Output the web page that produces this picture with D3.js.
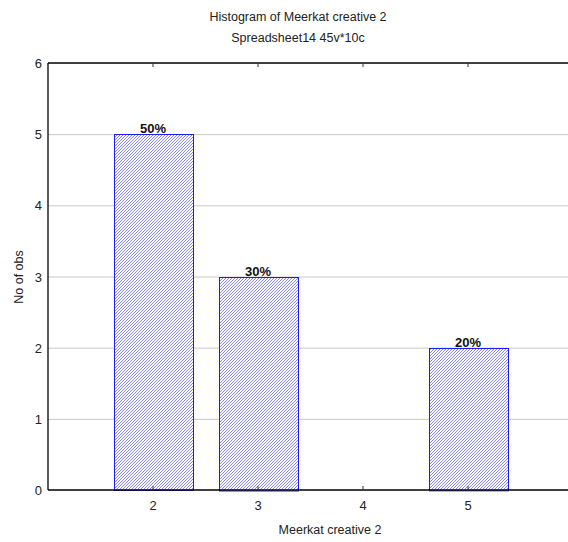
<!DOCTYPE html>
<html><head><meta charset="utf-8">
<script src="https://cdn.jsdelivr.net/npm/d3@7"></script>
<style>body{margin:0;background:#fff}svg{display:block;font-family:"Liberation Sans",Arial,sans-serif}</style>
</head><body>
<script>
const categories = [2, 3, 4, 5];
const counts = [5, 3, 0, 2];
const percentLabels = ["50%", "30%", "", "20%"];
const yTicks = [0, 1, 2, 3, 4, 5, 6];
const titleLines = ["Histogram of Meerkat creative 2", "Spreadsheet14 45v*10c"];
const xTitle = "Meerkat creative 2";
const yTitle = "No of obs";

const W = 568, H = 542;
const plotLeft = 48, plotTop = 63, plotBottom = 490;
const svg = d3.select("body").append("svg").attr("width", W).attr("height", H);

const x = d3.scaleLinear().domain([1, 6]).range([plotLeft, plotLeft + 5 * 105]);
const y = d3.scaleLinear().domain([0, 6]).range([plotBottom, plotTop]);

const defs = svg.append("defs");
const pat = defs.append("pattern").attr("id", "hatch").attr("patternUnits", "userSpaceOnUse")
  .attr("width", 3).attr("height", 3);
pat.append("rect").attr("width", 3).attr("height", 3).attr("fill", "#ffffff");
pat.append("path").attr("d", "M-1,1 l2,-2 M0,3 l3,-3 M2,4 l2,-2")
  .attr("stroke", "#7878f8").attr("stroke-width", 0.9);

// gridlines
svg.append("g").selectAll("line").data(yTicks.filter(d => d > 0 && d < 6)).join("line")
  .attr("x1", plotLeft).attr("x2", W).attr("y1", d => y(d) + 0.5).attr("y2", d => y(d) + 0.5)
  .attr("stroke", "#c8c8c8");

// bars
const bw = 79;
svg.append("g").selectAll("rect").data(categories).join("rect")
  .attr("x", (d) => Math.round(x(d) - bw / 2) + 0.5)
  .attr("y", (d, i) => Math.round(y(counts[i])) + 0.5)
  .attr("width", bw)
  .attr("height", (d, i) => Math.max(0, y(0) - y(counts[i])))
  .attr("fill", "url(#hatch)")
  .attr("stroke", (d, i) => counts[i] > 0 ? "#1a1aff" : "#a0a0ff")
  .attr("stroke-width", 1);

// percent labels
svg.append("g").selectAll("text").data(categories).join("text")
  .attr("x", d => x(d)).attr("y", (d, i) => y(counts[i]) - 1)
  .attr("text-anchor", "middle").attr("font-size", 13).attr("font-weight", "bold")
  .attr("fill", "#111").text((d, i) => percentLabels[i]);

// axes frame
const g = svg.append("g").attr("stroke", "#000").attr("stroke-width", 1.3);
g.append("line").attr("x1", plotLeft).attr("x2", plotLeft).attr("y1", plotTop).attr("y2", plotBottom);
g.append("line").attr("x1", plotLeft).attr("x2", W).attr("y1", plotBottom).attr("y2", plotBottom);
g.append("line").attr("x1", plotLeft).attr("x2", W).attr("y1", plotTop).attr("y2", plotTop);

// x ticks (inward, top and bottom)
svg.append("g").selectAll("line").data(categories).join("line")
  .attr("x1", d => x(d)).attr("x2", d => x(d)).attr("y1", plotBottom).attr("y2", plotBottom - 4)
  .attr("stroke", "#333");
svg.append("g").selectAll("line").data(categories).join("line")
  .attr("x1", d => x(d)).attr("x2", d => x(d)).attr("y1", plotTop).attr("y2", plotTop + 4)
  .attr("stroke", "#333");

// tick labels
svg.append("g").selectAll("text").data(categories).join("text")
  .attr("x", d => x(d)).attr("y", 510).attr("text-anchor", "middle")
  .attr("font-size", 13).attr("fill", "#222").text(d => d);
svg.append("g").selectAll("text").data(yTicks).join("text")
  .attr("x", 42).attr("y", d => y(d) + 5).attr("text-anchor", "end")
  .attr("font-size", 13).attr("fill", "#222").text(d => d);

// titles
svg.append("g").selectAll("text").data(titleLines).join("text")
  .attr("x", 298).attr("y", (d, i) => 21 + i * 21).attr("text-anchor", "middle")
  .attr("font-size", 12.5).attr("fill", "#222").text(d => d);
svg.append("text").attr("x", 330).attr("y", 534).attr("text-anchor", "middle")
  .attr("font-size", 12.5).attr("fill", "#222").text(xTitle);
svg.append("text").attr("transform", "translate(23,277) rotate(-90)").attr("text-anchor", "middle")
  .attr("font-size", 12.5).attr("fill", "#222").text(yTitle);
</script>
</body></html>
